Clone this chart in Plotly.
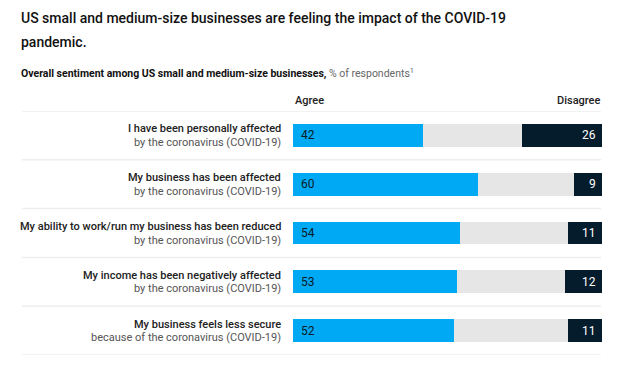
import plotly.graph_objects as go

categories_line1 = [
    "I have been personally affected",
    "My business has been affected",
    "My ability to work/run my business has been reduced",
    "My income has been negatively affected",
    "My business feels less secure",
]
categories_line2 = [
    "by the coronavirus (COVID-19)",
    "by the coronavirus (COVID-19)",
    "by the coronavirus (COVID-19)",
    "by the coronavirus (COVID-19)",
    "because of the coronavirus (COVID-19)",
]
agree = [42, 60, 54, 53, 52]
disagree = [26, 9, 11, 12, 11]

BLUE = "#00A9F4"
GRAY = "#E6E6E6"
NAVY = "#051C2C"
FONT = "Roboto"

OFF = 8  # page body margin
W, H = 640 - OFF, 366 - OFF


def px(x):
    return (x - OFF) / W


def py(y):
    return 1 - (y - OFF) / H


rows = list(range(len(agree)))
neutral = [100 - a - d for a, d in zip(agree, disagree)]

fig = go.Figure()
for vals, col in [(agree, BLUE), (neutral, GRAY), (disagree, NAVY)]:
    fig.add_trace(go.Bar(y=rows, x=vals, orientation="h", marker=dict(color=col, line=dict(width=0)),
                         width=0.47, hoverinfo="skip"))

x0, x1 = px(293), px(602)
ytop, ybot = py(111), py(355)

annotations = []
for i in rows:
    annotations.append(dict(x=0, y=i, xref="x", yref="y", text=str(agree[i]), showarrow=False,
                            xanchor="left", xshift=6, font=dict(family=FONT, size=12, color="#0b1a26")))
    annotations.append(dict(x=100, y=i, xref="x", yref="y", text=str(disagree[i]), showarrow=False,
                            xanchor="right", xshift=-4, font=dict(family=FONT, size=12, color="white")))
    annotations.append(dict(x=px(283), y=i, xref="paper", yref="y", text=categories_line1[i], showarrow=False,
                            xanchor="right", yshift=6.5, font=dict(family=FONT, size=11, color="#222222", weight=500)))
    annotations.append(dict(x=px(283), y=i, xref="paper", yref="y", text=categories_line2[i], showarrow=False,
                            xanchor="right", yshift=-7, font=dict(family=FONT, size=11, color="#555555")))

annotations += [
    dict(x=px(19), y=py(18), xref="paper", yref="paper", xanchor="left", yanchor="middle", align="left",
         text="US small and medium-size businesses are feeling the impact of the COVID-19",
         showarrow=False, font=dict(family=FONT, size=14, color="#111111", weight=500)),
    dict(x=px(19), y=py(42), xref="paper", yref="paper", xanchor="left", yanchor="middle", align="left",
         text="pandemic.",
         showarrow=False, font=dict(family=FONT, size=14, color="#111111", weight=500)),
    dict(x=px(19), y=py(73), xref="paper", yref="paper", xanchor="left", yanchor="middle",
         text="<b>Overall sentiment among US small and medium-size businesses,</b> "
              "<span style='color:#666666'>% of respondents<sup>1</sup></span>",
         showarrow=False, font=dict(family=FONT, size=10.5, color="#111111")),
    dict(x=x0, y=py(100), xref="paper", yref="paper", xanchor="left", yanchor="middle", text="Agree",
         showarrow=False, font=dict(family=FONT, size=11, color="#222222", weight=500)),
    dict(x=x1, y=py(100), xref="paper", yref="paper", xanchor="right", yanchor="middle", text="Disagree",
         showarrow=False, font=dict(family=FONT, size=11, color="#222222", weight=500)),
]

shapes = []
for k in range(len(rows) + 1):
    shapes.append(dict(type="line", xref="paper", yref="y", x0=px(22), x1=px(601), y0=k - 0.5, y1=k - 0.5,
                       line=dict(color="#EEEEEE", width=1.5)))

fig.update_layout(
    width=W, height=H, barmode="stack", showlegend=False,
    margin=dict(l=0, r=0, t=0, b=0),
    paper_bgcolor="white", plot_bgcolor="white",
    xaxis=dict(range=[0, 100], domain=[x0, x1], visible=False, fixedrange=True),
    yaxis=dict(range=[len(rows) - 0.5, -0.5], domain=[ybot, ytop], visible=False, fixedrange=True),
    annotations=annotations, shapes=shapes, bargap=0,
)

fig.write_html("out.html", config={"displayModeBar": False})
